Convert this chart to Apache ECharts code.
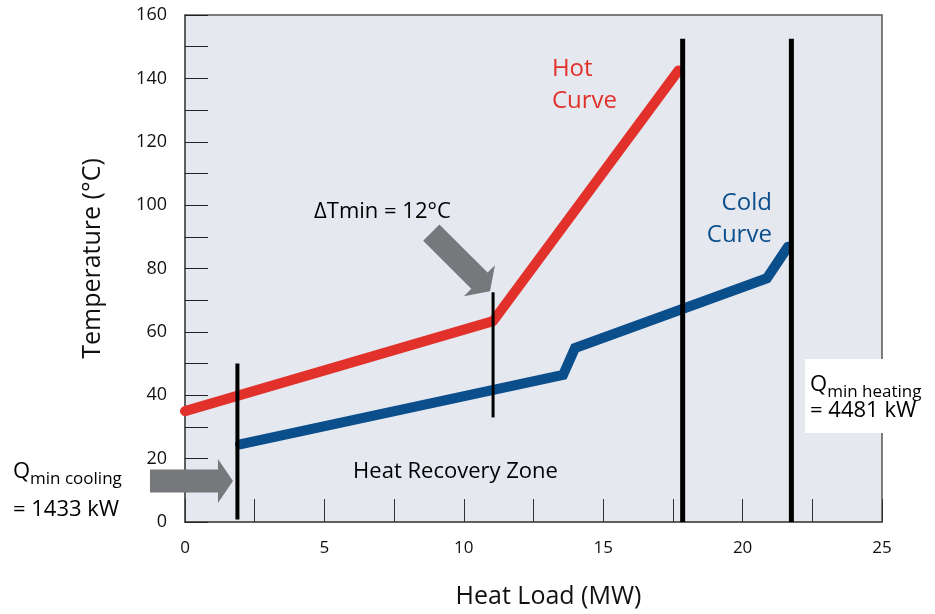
<!DOCTYPE html>
<html>
<head>
<meta charset="utf-8">
<script src="https://cdn.jsdelivr.net/npm/echarts@6/dist/echarts.min.js"></script>
<style>html,body{margin:0;padding:0;background:#fff}#c{width:935px;height:614px}</style>
</head>
<body>
<div id="c"></div>
<script>
// ---- data (MW, °C) ----
var hotCurve  = [[0, 35], [11.05, 63.4], [17.7, 142.5]];
var coldCurve = [[1.97, 24.5], [13.56, 46.4], [13.99, 54.9], [20.87, 76.9], [21.63, 86.9]];
// vertical marker lines: [x, yBottom, yTop, width]
var markerLines = [
  [1.88, 0.8, 50, 4],
  [11.05, 33, 72.5, 3],
  [17.85, 0, 152.5, 5],
  [21.75, 0, 152.5, 5]
];
// arrows: [tipX, tipY, angleDeg (0 = pointing right, clockwise positive on screen)]
var arrows = [[1.72, 12.9, 0], [10.94, 72.8, 45]];
var xTicks = [0, 5, 10, 15, 20, 25];
var yTicks = [0, 20, 40, 60, 80, 100, 120, 140, 160];
// text annotations: [x, y, key]
var notes = [
  [13.16, 138.0, 'hot'],
  [21.05, 95.7, 'cold'],
  [4.63, 97.9, 'dt'],
  [6.03, 16.0, 'zone'],
  [-6.17, 11.2, 'qcool'],
  [22.24, 39.8, 'qheat']
];

var FONT = '"Open Sans", "Noto Sans", sans-serif';
var chart = echarts.init(document.getElementById('c'), null, {renderer: 'canvas'});

var noteLabel = {
  hot:  {text: 'Hot\nCurve', align: 'left', style: {color: '#e1312a', fontSize: 24, lineHeight: 32}},
  cold: {text: 'Cold\nCurve', align: 'right', style: {color: '#0a4e8c', fontSize: 24, lineHeight: 32}},
  dt:   {text: '\u0394Tmin = 12\u00b0C', align: 'left', style: {color: '#000', fontSize: 22}},
  zone: {text: 'Heat Recovery Zone', align: 'left', style: {color: '#000', fontSize: 22}},
  qcool:{text: '{q|Q}{s|min cooling}\n{u|= 1433 kW}', align: 'left', style: {color: '#000'}},
  qheat:{text: '{q|Q}{s|min heating}\n{t|= 4481 kW}', align: 'left', style: {color: '#000', backgroundColor: '#fff', padding: [7, 40, 7, 5]}}
};
var rich = {
  q: {fontSize: 22, fontFamily: FONT, color: '#000', lineHeight: 30, verticalAlign: 'bottom'},
  s: {fontSize: 17, fontFamily: FONT, color: '#000', lineHeight: 24, verticalAlign: 'bottom', padding: [0, 0, -5, 0]},
  t: {fontSize: 22, fontFamily: FONT, color: '#000', lineHeight: 30},
  u: {fontSize: 22, fontFamily: FONT, color: '#000', lineHeight: 38, verticalAlign: 'bottom'}
};

var series = [];
series.push({
  type: 'line', data: hotCurve, symbol: 'none', z: 3,
  lineStyle: {color: '#e1312a', width: 10, cap: 'round', join: 'round'}
});
series.push({
  type: 'line', data: coldCurve, symbol: 'none', z: 3,
  lineStyle: {color: '#0a4e8c', width: 10, cap: 'round', join: 'miter'}
});
markerLines.forEach(function (m) {
  series.push({
    type: 'line', data: [[m[0], m[1]], [m[0], m[2]]], symbol: 'none', z: 5, clip: false,
    lineStyle: {color: '#000', width: m[3], cap: 'butt'}
  });
});
series.push({
  type: 'custom', z: 6, clip: false, data: arrows,
  renderItem: function (params, api) {
    var tip = api.coord([api.value(0), api.value(1)]);
    var a = api.value(2) * Math.PI / 180;
    var L = 83, H = 15, sw = 11.5, hw = 22;
    var local = [[0, 0], [-H, -hw], [-H, -sw], [-L, -sw], [-L, sw], [-H, sw], [-H, hw]];
    var pts = local.map(function (p) {
      return [tip[0] + p[0] * Math.cos(a) - p[1] * Math.sin(a),
              tip[1] + p[0] * Math.sin(a) + p[1] * Math.cos(a)];
    });
    return {type: 'polygon', shape: {points: pts}, style: {fill: '#77787b'}};
  }
});
notes.forEach(function (n) {
  var d = noteLabel[n[2]];
  var lab = Object.assign({
    show: true, position: [0, 0], align: d.align, verticalAlign: 'middle',
    formatter: d.text, fontFamily: FONT, rich: rich, opacity: 1
  }, d.style);
  series.push({
    type: 'scatter', symbolSize: 0, clip: false, silent: true, z: 7,
    itemStyle: {opacity: 1},
    data: [[n[0], n[1]]], label: lab
  });
});

chart.setOption({
  animation: false,
  grid: {left: 185, right: 53, top: 15, bottom: 89, show: true,
         backgroundColor: '#e6e8f0', borderColor: '#555', borderWidth: 1.5},
  xAxis: {
    type: 'value', min: 0, max: 25, interval: 2.5,
    name: 'Heat Load (MW)', nameLocation: 'middle', nameGap: 62,
    nameTextStyle: {fontSize: 25, fontFamily: FONT, color: '#111', padding: [0, 0, 0, 30]},
    axisLine: {show: true, lineStyle: {color: '#555', width: 1.5}},
    axisTick: {show: true, inside: true, length: 23, lineStyle: {color: '#333', width: 1}},
    splitLine: {show: false},
    axisLabel: {fontSize: 17, fontFamily: FONT, color: '#111', margin: 18,
      formatter: function (v) { return xTicks.indexOf(v) >= 0 ? String(v) : ''; }}
  },
  yAxis: {
    type: 'value', min: 0, max: 160, interval: 10,
    name: 'Temperature (\u00b0C)', nameLocation: 'middle', nameGap: 80,
    nameTextStyle: {fontSize: 25, fontFamily: FONT, color: '#111', padding: [0, 0, 0, 20]},
    axisLine: {show: true, lineStyle: {color: '#555', width: 1.5}},
    axisTick: {show: true, inside: true, length: 23, lineStyle: {color: '#222', width: 1}},
    splitLine: {show: false},
    axisLabel: {fontSize: 18, fontFamily: FONT, color: '#111', margin: 18,
      formatter: function (v) { return yTicks.indexOf(v) >= 0 ? String(v) : ''; }}
  },
  series: series
});
</script>
</body>
</html>
